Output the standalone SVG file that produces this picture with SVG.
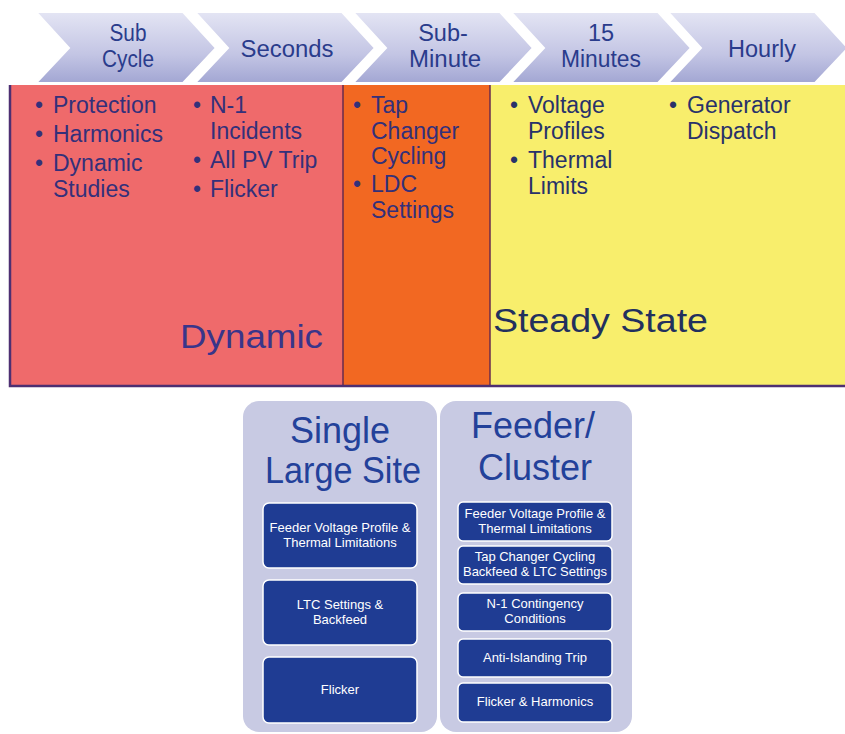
<svg xmlns="http://www.w3.org/2000/svg" width="845" height="734" viewBox="0 0 845 734">
<defs>
<linearGradient id="chev" x1="0" y1="0" x2="0" y2="1">
<stop offset="0" stop-color="#e4e5f4"/>
<stop offset="0.6" stop-color="#c3c5e4"/>
<stop offset="1" stop-color="#a2a6d3"/>
</linearGradient>
<polygon id="chevShape" points="0,12 147,12 180,48 147,83 0,83 33,48"/>
</defs>
<style>
.chev{fill:url(#chev);stroke:#ffffff;stroke-width:2}
.ct{font-family:"Liberation Sans",Arial,sans-serif;font-size:23.5px;fill:#2a3c8c;text-anchor:middle}
.bt{font-family:"Liberation Sans",Arial,sans-serif;font-size:23px;fill:#33307a}
.by{font-family:"Liberation Sans",Arial,sans-serif;font-size:23px;fill:#28326a}
.big{font-family:"Liberation Sans",Arial,sans-serif;font-size:34px}
.panel{fill:#c8cae3}
.box{fill:#1f3c93;stroke:#ffffff;stroke-width:1.5}
.bx{font-family:"Liberation Sans",Arial,sans-serif;font-size:13px;fill:#ffffff;text-anchor:middle}
.tt{font-family:"Liberation Sans",Arial,sans-serif;font-size:36px;fill:#23419a;text-anchor:middle}
</style>
<rect width="845" height="734" fill="#ffffff"/>

<g id="timeline">
<g id="chev-subcycle">
<use href="#chevShape" x="36" class="chev"/>
<text class="ct" x="128" y="41" textLength="37" lengthAdjust="spacingAndGlyphs">Sub</text>
<text class="ct" x="128" y="67" textLength="52" lengthAdjust="spacingAndGlyphs">Cycle</text>
</g>
<g id="chev-seconds">
<use href="#chevShape" x="195" class="chev"/>
<text class="ct" x="287" y="57" textLength="93" lengthAdjust="spacingAndGlyphs">Seconds</text>
</g>
<g id="chev-subminute">
<use href="#chevShape" x="353" class="chev"/>
<text class="ct" x="443" y="41">Sub-</text>
<text class="ct" x="445" y="67" textLength="72" lengthAdjust="spacingAndGlyphs">Minute</text>
</g>
<g id="chev-15min">
<use href="#chevShape" x="511" class="chev"/>
<text class="ct" x="601" y="41">15</text>
<text class="ct" x="601" y="67" textLength="80" lengthAdjust="spacingAndGlyphs">Minutes</text>
</g>
<g id="chev-hourly">
<use href="#chevShape" x="668" class="chev"/>
<text class="ct" x="762" y="57">Hourly</text>
</g>
</g>

<g id="bands">
<g id="band-dynamic">
<rect x="10" y="85" width="333" height="301" fill="#ef6a6b"/>
<text class="bt" x="35" y="113">•</text><text class="bt" x="53" y="113">Protection</text>
<text class="bt" x="35" y="142">•</text><text class="bt" x="53" y="142">Harmonics</text>
<text class="bt" x="35" y="171">•</text><text class="bt" x="53" y="171">Dynamic</text>
<text class="bt" x="53" y="197">Studies</text>
<text class="bt" x="193" y="113">•</text><text class="bt" x="210" y="113">N-1</text>
<text class="bt" x="210" y="139">Incidents</text>
<text class="bt" x="193" y="168">•</text><text class="bt" x="210" y="168">All PV Trip</text>
<text class="bt" x="193" y="197">•</text><text class="bt" x="210" y="197">Flicker</text>
<text class="big" x="180" y="348" fill="#39358a" textLength="143" lengthAdjust="spacingAndGlyphs">Dynamic</text>
</g>
<g id="band-subminute">
<rect x="343" y="85" width="147" height="301" fill="#f26822"/>
<text class="bt" x="353" y="113">•</text><text class="bt" x="371" y="113">Tap</text>
<text class="bt" x="371" y="139">Changer</text>
<text class="bt" x="371" y="164">Cycling</text>
<text class="bt" x="353" y="192">•</text><text class="bt" x="371" y="192">LDC</text>
<text class="bt" x="371" y="218">Settings</text>
</g>
<g id="band-steady">
<rect x="490" y="85" width="355" height="301" fill="#f8ee6c"/>
<text class="by" x="510" y="113">•</text><text class="by" x="528" y="113">Voltage</text>
<text class="by" x="528" y="139">Profiles</text>
<text class="by" x="510" y="168">•</text><text class="by" x="528" y="168">Thermal</text>
<text class="by" x="528" y="194">Limits</text>
<text class="by" x="669" y="113">•</text><text class="by" x="687" y="113">Generator</text>
<text class="by" x="687" y="139">Dispatch</text>
<text class="big" x="493" y="332" fill="#22305e" textLength="215" lengthAdjust="spacingAndGlyphs">Steady State</text>
</g>
<path d="M343,85 V386 M490,85 V386" stroke="#6a2b4e" stroke-width="1.5" fill="none"/>
<path d="M10,85 V386 H845" stroke="#4d2f72" stroke-width="2.5" fill="none"/>
</g>

<g id="single-large-site">
<rect class="panel" x="243" y="401" width="194" height="331" rx="16"/>
<text class="tt" x="340" y="443">Single</text>
<text class="tt" x="343" y="483" textLength="156" lengthAdjust="spacingAndGlyphs">Large Site</text>
<g id="sls-1">
<rect class="box" x="263" y="503" width="154" height="65" rx="6"/>
<text class="bx" x="340" y="532">Feeder Voltage Profile &amp;</text>
<text class="bx" x="340" y="547">Thermal Limitations</text>
</g>
<g id="sls-2">
<rect class="box" x="263" y="580" width="154" height="65" rx="6"/>
<text class="bx" x="340" y="609">LTC Settings &amp;</text>
<text class="bx" x="340" y="624">Backfeed</text>
</g>
<g id="sls-3">
<rect class="box" x="263" y="657" width="154" height="66" rx="6"/>
<text class="bx" x="340" y="694">Flicker</text>
</g>
</g>

<g id="feeder-cluster">
<rect class="panel" x="440" y="401" width="192" height="331" rx="16"/>
<text class="tt" x="533" y="438">Feeder/</text>
<text class="tt" x="535" y="480">Cluster</text>
<g id="fc-1">
<rect class="box" x="458" y="502" width="154" height="39" rx="5"/>
<text class="bx" x="535" y="518">Feeder Voltage Profile &amp;</text>
<text class="bx" x="535" y="533">Thermal Limitations</text>
</g>
<g id="fc-2">
<rect class="box" x="458" y="546" width="154" height="38" rx="5"/>
<text class="bx" x="535" y="561">Tap Changer Cycling</text>
<text class="bx" x="535" y="576" textLength="144" lengthAdjust="spacingAndGlyphs">Backfeed &amp; LTC Settings</text>
</g>
<g id="fc-3">
<rect class="box" x="458" y="593" width="154" height="38" rx="5"/>
<text class="bx" x="535" y="608">N-1 Contingency</text>
<text class="bx" x="535" y="623">Conditions</text>
</g>
<g id="fc-4">
<rect class="box" x="458" y="639" width="154" height="38" rx="5"/>
<text class="bx" x="535" y="662">Anti-Islanding Trip</text>
</g>
<g id="fc-5">
<rect class="box" x="458" y="683" width="154" height="39" rx="5"/>
<text class="bx" x="535" y="706">Flicker &amp; Harmonics</text>
</g>
</g>

<g id="connectors"/>
</svg>
